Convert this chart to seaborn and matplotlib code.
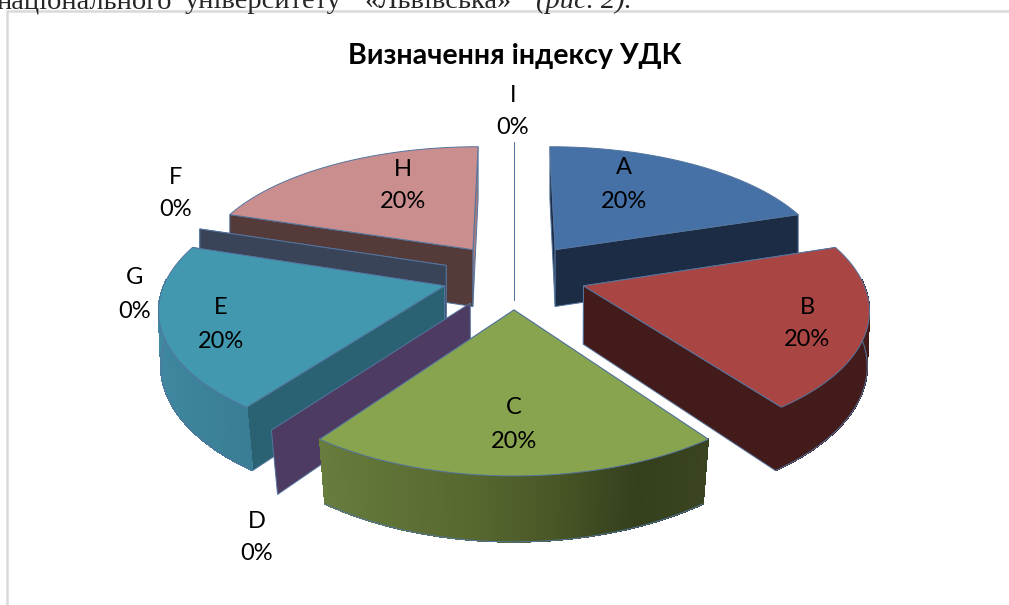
import numpy as np
import matplotlib
matplotlib.use("Agg")
import matplotlib.pyplot as plt
import seaborn as sns

# Data
categories = ["A", "B", "C", "D", "E", "F", "G", "H", "I"]
values = [20, 20, 20, 0, 20, 0, 0, 20, 0]

top_colors = ["#4571A6", "#A94643", "#89A44E", "#4D3B62", "#4198AF", "#3A4458", "#3A4458", "#CA8E8E", "#8FA9CC"]
start_wall = ["#1B2C44", "#431B1A", "#89A44E", "#4D3B62", "#2A6274", "#3A4458", "#3A4458", "#553A3A", "#8FA9CC"]
end_wall = ["#1B2C44", "#431B1A", "#89A44E", "#4D3B62", "#2A6274", "#3A4458", "#3A4458", "#A87C7C", "#8FA9CC"]
# outer wall colours, clockwise through the slice
outer_colors = [
    ["#1B2C44", "#1B2C44"],
    ["#431B1A", "#431B1A"],
    ["#3A4421", "#343F1C", "#485626", "#57682F", "#5F7236", "#687C3E"],
    ["#4D3B62", "#4D3B62"],
    ["#3A7E95", "#3F88A0", "#3F88A0"],
    ["#3A4458", "#3A4458"],
    ["#3A4458", "#3A4458"],
    ["#553A3A", "#553A3A"],
    ["#8FA9CC", "#8FA9CC"],
]
# where the "name / percent" labels sit, pixels (centre of the name line)
label_xy = [(624, 168), (807, 307), (514, 408), (257, 521), (221, 308), (176, 177), (135, 278), (403, 169), (513, 95)]

edge = "#54759F"

# projection of the tilted pie onto the picture
CX, CY = 514, 275.5
RX, RY = 277.5, 127
PERSP_X = 0.15
PERSP_Y = 0.16
EXPLODE = 0.26
DEPTH = 58


def project(u, v, lower=False):
    x = RX * u / (1 + PERSP_X * v)
    y = CY - RY * v / (1 + PERSP_Y * v)
    if lower:
        x = x * min(1, 1 + 0.025 * v)
        y = y + DEPTH / (1 + 0.096 * v)
    return CX + x, y


def point(theta, r, mid, lower=False):
    u = EXPLODE * np.sin(mid) + r * np.sin(theta)
    v = EXPLODE * np.cos(mid) + r * np.cos(theta)
    return project(u, v, lower)


sns.set_theme(style="white")
plt.rcParams["font.family"] = ["Lato", "Noto Sans", "DejaVu Sans"]

fig, ax = plt.subplots(figsize=(10.09, 6.05), dpi=100)
ax.set_position([0, 0, 1, 1])
ax.set_xlim(0, 1009)
ax.set_ylim(605, 0)
ax.axis("off")

# angles of each slice, clockwise from the top
total = sum(values)
ends = np.cumsum(values) / total * 2 * np.pi
starts = ends - np.array(values) / total * 2 * np.pi
mids = (starts + ends) / 2


def radial_wall(angle, mid, color, z):
    a = point(angle, 0, mid)
    b = point(angle, 1, mid)
    c = point(angle, 1, mid, True)
    d = point(angle, 0, mid, True)
    ax.fill(*zip(a, b, c, d), fc=color, ec=edge, lw=0.7, zorder=z)


# back slices first so the front ones paint over them
order = sorted(range(len(values)), key=lambda i: -np.cos(mids[i]))
for n, i in enumerate(order):
    z = 10 + n
    if values[i] == 0:
        radial_wall(starts[i], mids[i], start_wall[i], z)
        continue
    # hidden cut face first, the one facing the viewer after it
    if np.sin(mids[i]) > 0:
        radial_wall(starts[i], mids[i], start_wall[i], z)
        radial_wall(ends[i], mids[i], end_wall[i], z)
    else:
        radial_wall(ends[i], mids[i], end_wall[i], z)
        radial_wall(starts[i], mids[i], start_wall[i], z)

    thetas = np.linspace(starts[i], ends[i], 161)
    pal = sns.blend_palette(outer_colors[i], n_colors=len(thetas) - 1)
    # only the part of the rim that faces the viewer
    front = np.cos(thetas) < 0.05
    for k in range(len(thetas) - 1):
        if not (front[k] and front[k + 1]):
            continue
        p = [point(thetas[k], 1, mids[i]), point(thetas[k + 1], 1, mids[i]),
             point(thetas[k + 1], 1, mids[i], True), point(thetas[k], 1, mids[i], True)]
        ax.fill(*zip(*p), fc=pal[k], ec=pal[k], lw=0.5, antialiased=False, zorder=z)
    low = [point(t, 1, mids[i], True) for t in thetas[front]]
    if low:
        ax.plot(*zip(*low), color=edge, lw=0.7, zorder=z)

    outline = [point(starts[i], 0, mids[i])] + [point(t, 1, mids[i]) for t in thetas]
    ax.fill(*zip(*outline), fc=top_colors[i], ec=edge, lw=0.7, zorder=z)

# labels
for name, val, (x, y) in zip(categories, values, label_xy):
    ax.text(x, y, name, ha="center", va="center", fontsize=17, color="black", zorder=50)
    ax.text(x, y + 33, f"{round(val / total * 100)}%", ha="center", va="center", fontsize=17,
            color="black", zorder=50)

ax.text(515, 56, "Визначення індексу УДК", ha="center", va="center", fontsize=20.6,
        fontweight="bold", color="black", zorder=50)

# chart frame and the page text cut off above it
ax.plot([7, 7], [12, 605], color="#D9D9D9", lw=1.8, zorder=1)
ax.plot([7, 1009], [11, 11], color="#D9D9D9", lw=1.8, zorder=1)
serif = ["Liberation Serif", "DejaVu Serif"]
ax.text(172, 8, "національного", fontsize=20.5, family=serif, ha="right", va="baseline")
ax.text(185, 8, "університету", fontsize=20.5, family=serif, ha="left", va="baseline")
ax.text(364, 8, "«Львівська»", fontsize=20.5, family=serif, ha="left", va="baseline")
ax.text(536, 8, "(рис. 2).", fontsize=20.5, family=serif, style="italic", ha="left", va="baseline")

fig.savefig("out.png", dpi=100)
